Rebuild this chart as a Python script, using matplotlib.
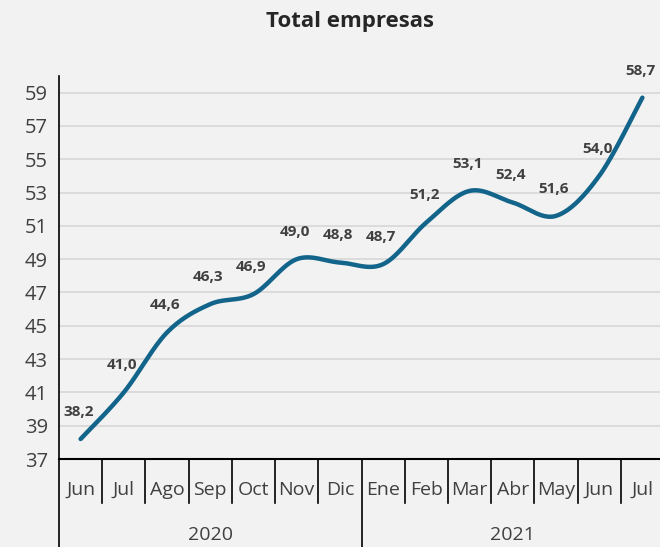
import numpy as np
import matplotlib
matplotlib.use('Agg')
import matplotlib.pyplot as plt
import matplotlib.transforms as mtrans

months = ['Jun', 'Jul', 'Ago', 'Sep', 'Oct', 'Nov', 'Dic',
          'Ene', 'Feb', 'Mar', 'Abr', 'May', 'Jun', 'Jul']
years = ['2020', '2021']
year_start = [0, 7]
values = [38.2, 41.0, 44.6, 46.3, 46.9, 49.0, 48.8,
          48.7, 51.2, 53.1, 52.4, 51.6, 54.0, 58.7]
labels = ['38,2', '41,0', '44,6', '46,3', '46,9', '49,0', '48,8',
          '48,7', '51,2', '53,1', '52,4', '51,6', '54,0', '58,7']
yticks = list(range(37, 60, 2))

bg = '#f2f2f2'
line_col = '#12648a'
txt = '#404040'

plt.rcParams['font.family'] = ['Open Sans', 'DejaVu Sans']


def smooth(xs, ys, n=30):
    # catmull-rom style bezier, like excel's smoothed line
    xs = np.asarray(xs, float)
    ys = np.asarray(ys, float)
    px = np.concatenate([[xs[0]], xs, [xs[-1]]])
    py = np.concatenate([[ys[0]], ys, [ys[-1]]])
    ox, oy = [], []
    t = np.linspace(0, 1, n)
    for i in range(1, len(px) - 2):
        p0 = np.array([px[i], py[i]])
        p3 = np.array([px[i + 1], py[i + 1]])
        p1 = p0 + (np.array([px[i + 1], py[i + 1]]) - np.array([px[i - 1], py[i - 1]])) / 6
        p2 = p3 - (np.array([px[i + 2], py[i + 2]]) - np.array([px[i], py[i]])) / 6
        b = ((1 - t) ** 3)[:, None] * p0 + (3 * (1 - t) ** 2 * t)[:, None] * p1 \
            + (3 * (1 - t) * t ** 2)[:, None] * p2 + (t ** 3)[:, None] * p3
        ox.extend(b[:, 0])
        oy.extend(b[:, 1])
    return np.array(ox), np.array(oy)


fig = plt.figure(figsize=(6.6, 5.47), dpi=100, facecolor=bg)
ax = fig.add_axes([59 / 660, 1 - 459 / 547, (664 - 59) / 660, 383 / 547])
ax.set_facecolor(bg)

x = np.arange(len(values))
sx, sy = smooth(x, values)
ax.plot(sx, sy, color=line_col, lw=3.2, solid_capstyle='round', zorder=3)

for xi, v, lab in zip(x, values, labels):
    ax.annotate(lab, (xi, v), xytext=(-1.5, 19.5), textcoords='offset points',
                ha='center', va='center', fontsize=11, fontweight='bold',
                color=txt, zorder=4)

ax.set_xlim(-0.5, len(values) - 0.5)
ax.set_ylim(37, 60)
ax.set_yticks(yticks)
ax.tick_params(axis='y', length=0, labelsize=14.5, labelcolor=txt, pad=8)
ax.set_xticks([])
ax.grid(axis='y', color='#d9d9d9', lw=1.3)
ax.set_axisbelow(True)
for s in ['top', 'right']:
    ax.spines[s].set_visible(False)
ax.spines['left'].set_color('black')
ax.spines['bottom'].set_color('black')
ax.spines['left'].set_linewidth(1.2)
ax.spines['bottom'].set_linewidth(1.5)

# category axis with month and year rows
tr = mtrans.blended_transform_factory(ax.transData, ax.transAxes)
for i, m in enumerate(months):
    ax.text(i, -0.081, m, transform=tr, ha='center', va='center',
            fontsize=14, color=txt)
    if i > 0 and i not in year_start:
        ax.plot([i - 0.5, i - 0.5], [0, -0.115], transform=tr, color='black',
                lw=1.2, clip_on=False)
bounds = year_start + [len(months)]
for j, yr in enumerate(years):
    a, b = bounds[j], bounds[j + 1]
    ax.text((a + b - 1) / 2, -0.198, yr, transform=tr, ha='center',
            va='center', fontsize=14, color=txt)
    ax.plot([a - 0.5, a - 0.5], [0, -0.25], transform=tr, color='black',
            lw=1.2, clip_on=False)

fig.text(350 / 660, 1 - 22 / 547, 'Total empresas', ha='center', va='center',
         fontsize=16, fontweight='bold', color='#262626')

fig.savefig('out.png', dpi=100, facecolor=bg)
